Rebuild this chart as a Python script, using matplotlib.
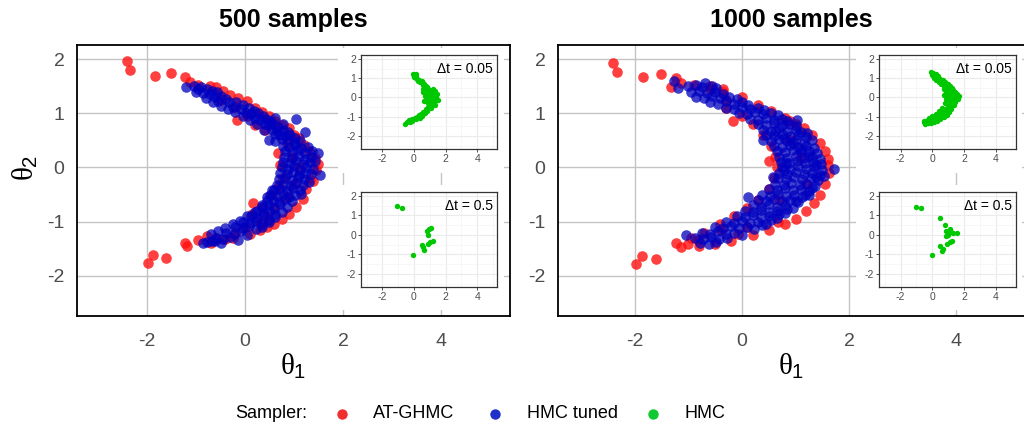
import numpy as np
import matplotlib
matplotlib.use('Agg')
import matplotlib.pyplot as plt
from matplotlib.lines import Line2D

plt.rcParams['font.family'] = ['Liberation Sans', 'DejaVu Sans']
plt.rcParams['axes.unicode_minus'] = False
plt.rcParams['mathtext.fontset'] = 'custom'
plt.rcParams['mathtext.rm'] = 'Liberation Sans'
plt.rcParams['mathtext.it'] = 'Liberation Serif'

W, H = 1024, 428

# ---- data: (theta1, theta2) ----
at_ghmc_500 = [
    (-2.41, 1.96), (-2.35, 1.79), (-1.84, 1.69), (-1.52, 1.74), (-1.22, 1.67), (-1.12, 1.57),
    (-0.71, 1.51), (-0.17, 0.88), (1.50, 0.06), (0.78, -0.19), (-1.99, -1.77), (-1.87, -1.62),
    (-1.61, -1.67), (-1.22, -1.40), (-1.18, -1.45), (-0.78, -1.26), (-0.24, -1.30), (0.10, -1.22),
    (0.16, -0.65), (-0.95, 1.52), (-0.6, 1.48), (-0.45, 1.42), (-0.3, 1.33), (-0.15, 1.28),
    (0.05, 1.22), (0.2, 1.1), (0.35, 1.02), (0.5, 0.95), (0.62, 0.85), (0.75, 0.78), (0.9, 0.72),
    (1.0, 0.6), (1.1, 0.55), (1.2, 0.42), (1.3, 0.3), (1.42, 0.18), (1.45, -0.05), (1.38, -0.25),
    (1.33, -0.22), (1.25, -0.4), (1.18, -0.59), (1.05, -0.72), (0.9, -0.85), (0.75, -0.95),
    (0.6, -1.05), (0.45, -1.1), (0.3, -1.15), (-0.4, -1.32), (-0.6, -1.3), (-0.95, -1.33),
    (-0.7, -1.4), (0.67, 0.27), (0.72, 0.05), (0.7, -0.35), (0.55, -0.5), (0.35, -0.72),
    (0.15, -0.85), (0.45, -0.9), (0.2, 0.78), (0.05, 0.95), (-0.2, 1.12), (-0.5, 1.25),
    (0.4, 0.7), (0.85, 0.45), (0.95, 0.2), (1.1, 0.0), (1.0, -0.3), (0.85, -0.55), (0.6, -0.75),
    (0.3, -1.0), (0.0, -1.1), (-0.2, -1.2),
]

hmc_tuned_500 = [
    (-1.05, 1.5), (-0.9, 1.48), (-0.95, 1.44), (-0.78, 1.45), (-0.68, 1.42), (-0.85, 1.38),
    (-0.72, 1.36), (-0.58, 1.4), (-0.62, 1.3), (-0.48, 1.32), (-0.38, 1.27), (-0.55, 1.22),
    (-0.32, 1.2), (-0.18, 1.2), (-0.05, 1.16), (-0.25, 1.12), (-0.08, 1.08), (0.08, 1.1),
    (0.18, 1.05), (0.02, 1.0), (0.12, 0.98), (0.26, 1.0), (0.36, 0.95), (0.2, 0.92),
    (0.3, 0.88), (0.42, 0.9), (0.52, 0.85), (0.62, 0.92), (0.4, 0.8), (0.5, 0.78), (0.58, 0.8),
    (0.68, 0.75), (0.78, 0.8), (0.55, 0.7), (0.66, 0.68), (0.78, 0.7), (0.88, 0.65), (0.62, 0.62),
    (0.72, 0.6), (0.82, 0.58), (0.92, 0.6), (1.02, 0.55), (0.5, 0.5), (0.62, 0.48), (0.75, 0.52),
    (0.88, 0.5), (1.0, 0.45), (1.12, 0.48), (0.78, 0.4), (0.9, 0.38), (1.02, 0.42), (1.15, 0.36),
    (1.28, 0.38), (0.82, 0.3), (0.95, 0.28), (1.08, 0.32), (1.22, 0.26), (1.36, 0.3), (0.8, 0.2),
    (0.95, 0.18), (1.1, 0.22), (1.22, 0.16), (1.35, 0.2), (0.78, 0.1), (0.92, 0.08), (1.05, 0.12),
    (1.18, 0.06), (1.32, 0.1), (1.42, 0.12), (0.75, 0.0), (0.88, -0.02), (1.0, 0.02), (1.12, -0.04),
    (1.25, 0.0), (1.38, -0.02), (0.72, -0.1), (0.85, -0.12), (0.98, -0.08), (1.1, -0.14),
    (1.22, -0.1), (1.35, -0.12), (0.7, -0.22), (0.82, -0.2), (0.95, -0.24), (1.08, -0.18),
    (1.2, -0.22), (1.3, -0.26), (0.65, -0.32), (0.78, -0.3), (0.92, -0.34), (1.05, -0.28),
    (1.18, -0.32), (0.6, -0.42), (0.72, -0.4), (0.85, -0.44), (0.98, -0.38), (1.12, -0.42),
    (0.52, -0.5), (0.65, -0.52), (0.78, -0.48), (0.9, -0.54), (1.02, -0.5), (1.15, -0.48),
    (0.45, -0.62), (0.58, -0.6), (0.7, -0.64), (0.82, -0.58), (0.95, -0.62), (0.35, -0.72),
    (0.48, -0.7), (0.6, -0.74), (0.72, -0.68), (0.85, -0.72), (0.25, -0.8), (0.38, -0.84),
    (0.5, -0.8), (0.62, -0.86), (0.75, -0.82), (0.12, -0.9), (0.25, -0.94), (0.38, -0.9),
    (0.5, -0.96), (0.62, -0.92), (-0.05, -1.0), (0.1, -1.02), (0.22, -0.98), (0.35, -1.04),
    (0.48, -1.0), (-0.2, -1.1), (-0.05, -1.12), (0.08, -1.08), (0.22, -1.14), (0.35, -1.1),
    (-0.38, -1.2), (-0.22, -1.22), (-0.08, -1.18), (0.05, -1.24), (-0.6, -1.3), (-0.45, -1.32),
    (-0.3, -1.28), (-0.15, -1.34), (-0.78, -1.38), (-0.62, -1.36), (-0.5, -1.4),
    (-0.8, 1.28), (-0.65, 1.2), (-0.5, 1.13), (-0.35, 1.08), (-0.2, 1.02), (-0.05, 0.95),
    (0.1, 0.88), (0.25, 0.8), (0.38, 0.7), (-0.7, -1.22), (-0.55, -1.18), (-0.4, -1.12),
    (-0.25, -1.05), (-0.1, -0.98), (0.05, -0.9), (0.2, -0.82), (0.35, -0.7), (0.45, -0.55),
    (0.55, -0.42),
    (-1.2, 1.49), (-1.0, 1.39), (1.04, 0.9), (1.22, 0.65), (1.54, -0.14), (1.5, 0.26),
    (-0.85, -1.4), (-0.68, -1.36),
]

at_ghmc_1000 = [
    (-2.41, 1.93), (-2.33, 1.77), (-1.84, 1.67), (-1.51, 1.72), (-1.23, 1.65), (-1.33, 1.49),
    (-1.13, 1.55), (-0.17, 0.86), (0.89, 0.85), (0.50, 0.12), (1.60, 0.04), (-1.97, -1.78),
    (-1.86, -1.63), (-1.60, -1.68), (-1.23, -1.40), (-1.13, -1.46), (-0.82, -1.34), (-0.39, -1.16),
    (-0.07, -1.22), (0.67, -1.0), (-0.9, 1.52), (-0.6, 1.5), (-0.35, 1.45), (0.0, 1.3),
    (0.3, 1.15), (0.55, 1.05), (0.8, 0.92), (1.0, 0.8), (1.15, 0.72), (1.3, 0.6), (1.45, 0.45),
    (1.55, 0.3), (1.6, 0.15), (1.62, -0.1), (1.55, -0.3), (1.45, -0.5), (1.35, -0.65),
    (1.2, -0.8), (1.0, -0.95), (0.8, -1.05), (0.5, -1.15), (0.2, -1.25), (-0.2, -1.35),
    (-0.5, -1.42), (-0.8, -1.45), (-1.0, -1.42), (-0.3, 1.1), (0.0, 0.95), (0.2, 0.8),
    (0.4, 0.6), (0.55, 0.4), (0.62, 0.2), (0.65, 0.0), (0.6, -0.2), (0.5, -0.4), (0.3, -0.6),
    (0.1, -0.75), (-0.15, -0.9), (-0.4, -1.05), (-0.7, -1.2), (-0.95, -1.3), (-0.6, 1.45),
    (-0.35, 1.4), (1.1, 0.2), (1.2, -0.3), (0.9, 0.5), (0.7, -0.6), (0.1, -1.1), (-0.3, 1.25),
]

hmc_tuned_1000 = [
    (-0.68, 1.55), (-0.85, 1.52), (-1.0, 1.5), (-0.75, 1.48), (-0.55, 1.5), (-0.48, 1.47),
    (-0.95, 1.4), (-0.8, 1.42), (-0.65, 1.38), (-0.5, 1.4), (-0.35, 1.36),
    (-0.85, 1.3), (-0.7, 1.28), (-0.55, 1.32), (-0.4, 1.28), (-0.25, 1.3), (-0.1, 1.26),
    (-0.6, 1.2), (-0.45, 1.18), (-0.3, 1.22), (-0.15, 1.18), (0.0, 1.2), (0.12, 1.16),
    (-0.3, 1.1), (-0.15, 1.08), (0.0, 1.12), (0.15, 1.08), (0.3, 1.1), (0.42, 1.06),
    (-0.05, 1.0), (0.1, 0.98), (0.25, 1.02), (0.4, 0.98), (0.55, 1.0), (0.68, 0.97),
    (0.15, 0.9), (0.3, 0.88), (0.45, 0.92), (0.6, 0.88), (0.75, 0.9), (0.85, 0.86),
    (0.3, 0.8), (0.45, 0.78), (0.6, 0.82), (0.75, 0.78), (0.88, 0.8), (1.0, 0.76),
    (0.4, 0.7), (0.55, 0.68), (0.7, 0.72), (0.85, 0.68), (1.0, 0.7), (1.1, 0.66),
    (0.45, 0.6), (0.6, 0.58), (0.75, 0.62), (0.9, 0.58), (1.05, 0.6), (1.2, 0.56),
    (0.4, 0.5), (0.55, 0.48), (0.7, 0.52), (0.85, 0.48), (1.0, 0.5), (1.15, 0.46), (1.3, 0.5),
    (0.6, 0.4), (0.75, 0.38), (0.9, 0.42), (1.05, 0.38), (1.2, 0.4), (1.35, 0.36),
    (0.65, 0.3), (0.8, 0.28), (0.95, 0.32), (1.1, 0.28), (1.25, 0.3), (1.4, 0.26),
    (0.7, 0.2), (0.85, 0.18), (1.0, 0.22), (1.15, 0.18), (1.3, 0.2), (1.45, 0.16),
    (0.72, 0.1), (0.88, 0.08), (1.02, 0.12), (1.18, 0.08), (1.32, 0.1), (1.48, 0.06),
    (0.75, 0.0), (0.9, -0.02), (1.05, 0.02), (1.2, -0.02), (1.35, 0.0), (1.5, -0.04),
    (0.7, -0.1), (0.85, -0.12), (1.0, -0.08), (1.15, -0.12), (1.3, -0.1), (1.45, -0.14),
    (0.68, -0.2), (0.82, -0.22), (0.98, -0.18), (1.12, -0.22), (1.28, -0.2), (1.42, -0.24),
    (0.62, -0.3), (0.78, -0.32), (0.92, -0.28), (1.08, -0.32), (1.22, -0.3), (1.36, -0.34),
    (0.5, -0.4), (0.65, -0.42), (0.8, -0.38), (0.95, -0.42), (1.1, -0.4), (1.25, -0.44),
    (0.38, -0.5), (0.52, -0.52), (0.68, -0.48), (0.82, -0.52), (0.98, -0.5), (1.12, -0.54),
    (1.25, -0.5), (0.3, -0.6), (0.45, -0.62), (0.6, -0.58), (0.75, -0.62), (0.9, -0.6),
    (1.05, -0.64), (0.2, -0.7), (0.35, -0.72), (0.5, -0.68), (0.65, -0.72), (0.8, -0.7),
    (0.95, -0.74), (0.05, -0.8), (0.2, -0.82), (0.35, -0.78), (0.5, -0.82), (0.65, -0.8),
    (0.8, -0.84), (-0.1, -0.9), (0.05, -0.92), (0.2, -0.88), (0.35, -0.92), (0.5, -0.9),
    (0.65, -0.94), (-0.3, -1.0), (-0.15, -1.02), (0.0, -0.98), (0.15, -1.02), (0.3, -1.0),
    (0.45, -1.04), (-0.5, -1.1), (-0.35, -1.12), (-0.2, -1.08), (-0.05, -1.12), (0.1, -1.1),
    (0.22, -1.14), (-0.75, -1.2), (-0.6, -1.22), (-0.45, -1.18), (-0.3, -1.22), (-0.15, -1.2),
    (0.0, -1.24), (-0.88, -1.3), (-0.72, -1.32), (-0.58, -1.28), (-0.42, -1.32), (-0.28, -1.3),
    (-0.78, -1.4), (-0.62, -1.42), (-0.48, -1.38),
    (0.62, 0.68), (0.78, 0.55), (0.95, 0.45), (1.1, 0.35), (1.25, 0.22), (1.38, 0.05),
    (1.38, -0.18), (1.3, -0.38), (1.18, -0.5), (1.0, -0.62), (0.85, -0.76), (0.7, -0.86),
    (0.55, -0.97), (0.38, -1.06), (0.82, 0.08), (0.78, -0.05),
    (-1.26, 1.6), (-1.19, 1.47), (1.03, 0.88), (1.22, 0.63), (1.71, -0.02), (1.54, -0.16),
    (-1.04, -1.24), (0.11, -0.54), (0.58, -0.18),
]

hmc_500_dt005 = [
    (-0.05, 1.2), (0.05, 1.18), (0.1, 1.12), (-0.02, 1.05), (0.12, 1.02), (0.2, 0.95),
    (0.3, 0.9), (0.25, 0.85), (0.4, 0.82), (0.5, 0.85), (0.55, 0.75), (0.65, 0.7), (0.6, 0.62),
    (0.75, 0.6), (0.85, 0.55), (0.7, 0.5), (0.9, 0.45), (1.0, 0.4), (0.8, 0.35), (1.1, 0.3),
    (1.2, 0.25), (0.95, 0.2), (1.3, 0.12), (1.15, 0.05), (1.4, 0.0), (1.5, -0.12), (1.25, -0.1),
    (1.35, -0.2), (1.1, -0.25), (1.2, -0.35), (1.0, -0.4), (0.9, -0.5), (1.05, -0.55),
    (0.75, -0.6), (0.85, -0.68), (0.6, -0.75), (0.7, -0.82), (0.45, -0.85), (0.5, -0.95),
    (0.3, -0.92), (0.2, -1.0), (0.35, -1.05), (0.05, -1.05), (0.1, -1.12), (-0.1, -1.1),
    (-0.15, -1.2), (-0.3, -1.18), (-0.25, -1.28), (-0.45, -1.25), (-0.55, -1.35),
    (0.6, 0.3), (0.7, 0.1), (0.85, 0.0), (0.95, -0.15), (0.8, 0.15), (1.2, 0.45), (1.3, 0.35),
    (1.45, 0.2), (0.65, -0.2), (1.3, -0.4), (0.55, 0.45), (0.15, 1.2), (0.0, 1.1), (1.05, 0.1),
    (0.9, -0.3),
]

hmc_500_dt05 = [
    (-1.06, 1.47), (-0.74, 1.36), (0.80, 0.22), (0.97, 0.31), (1.06, 0.34), (0.91, 0.02),
    (0.49, -0.51), (0.59, -0.64), (0.65, -0.77), (0.91, -0.46), (1.01, -0.38), (1.18, -0.33),
    (-0.08, -1.01),
]

hmc_1000_dt005 = [
    (-0.1, 1.3), (0.05, 1.25), (-0.05, 1.15), (0.15, 1.1), (0.1, 1.0), (0.3, 1.02), (0.25, 0.9),
    (0.45, 0.92), (0.4, 0.8), (0.6, 0.82), (0.55, 0.7), (0.75, 0.72), (0.7, 0.6), (0.9, 0.62),
    (0.85, 0.5), (1.05, 0.5), (0.95, 0.38), (1.15, 0.4), (1.0, 0.25), (1.25, 0.28), (1.1, 0.12),
    (1.35, 0.15), (1.2, 0.0), (1.5, 0.02), (1.6, -0.1), (1.3, -0.15), (1.45, -0.25), (1.1, -0.2),
    (1.25, -0.35), (1.0, -0.4), (1.15, -0.5), (0.9, -0.55), (1.0, -0.65), (0.75, -0.68),
    (0.85, -0.78), (0.55, -0.8), (0.65, -0.9), (0.35, -0.9), (0.45, -1.0), (0.15, -1.0),
    (0.25, -1.1), (-0.05, -1.1), (0.05, -1.18), (-0.25, -1.15), (-0.15, -1.25), (-0.4, -1.2),
    (-0.5, -1.28), (-0.3, -1.3), (0.95, 0.05), (0.8, -0.3), (1.3, 0.4), (0.6, -0.55),
    (0.2, 1.2), (0.35, 1.1), (0.5, 0.95), (0.65, 0.9), (0.8, 0.8), (0.95, 0.7), (1.1, 0.6),
    (1.25, 0.5), (1.4, 0.3), (1.55, 0.2), (1.65, 0.05), (1.4, -0.05), (0.85, 0.3), (0.75, 0.45),
    (0.7, 0.15), (0.85, -0.1), (1.05, -0.05), (1.35, -0.4), (1.2, -0.6), (1.05, -0.75),
    (0.9, -0.9), (0.7, -1.0), (0.5, -1.1), (0.3, -1.2), (0.1, -1.25), (-0.1, -1.32),
    (-0.45, -1.35), (-0.55, -1.2), (0.4, -0.7), (0.2, -0.85), (0.0, -0.95), (-0.2, -1.05),
]

hmc_1000_dt05 = [
    (-1.05, 1.45), (-0.73, 1.37), (0.45, 0.85), (0.77, 0.51), (0.88, 0.22), (1.08, 0.31),
    (1.14, 0.13), (0.99, 0.02), (1.29, 0.08), (1.57, 0.08), (0.88, -0.04), (1.21, -0.29),
    (1.10, -0.38), (0.93, -0.46), (0.50, -0.55), (0.65, -0.72), (0.61, -0.80), (-0.04, -1.01),
]

titles = ['500 samples', '1000 samples']
sampler_labels = ['AT-GHMC', 'HMC tuned', 'HMC']
dt_labels = ['\u0394t = 0.05', '\u0394t = 0.5']

RED = '#FF1010'
BLUE = '#0000C0'
GREEN = '#00C800'


def box(x0, y0, x1, y1):
    # pixel box (top-left origin) -> figure fraction rect
    return [x0 / W, 1 - y1 / H, (x1 - x0) / W, (y1 - y0) / H]


fig = plt.figure(figsize=(W / 100, H / 100), dpi=100)

panels = [
    dict(main=(77, 45, 510, 316), bg=(338, 504), inset_x=(361, 497),
         red=at_ghmc_500, blue=hmc_tuned_500, green=[hmc_500_dt005, hmc_500_dt05]),
    dict(main=(558, 45, 1032, 316), bg=(856, 1022), inset_x=(879, 1016),
         red=at_ghmc_1000, blue=hmc_tuned_1000, green=[hmc_1000_dt005, hmc_1000_dt05]),
]

for i, p in enumerate(panels):
    ax = fig.add_axes(box(*p['main']))
    r = np.array(p['red'])
    b = np.array(p['blue'])
    ax.scatter(r[:, 0], r[:, 1], s=58, color=RED, alpha=0.8, linewidths=0, zorder=2)
    ax.scatter(b[:, 0], b[:, 1], s=58, color=BLUE, alpha=0.75, linewidths=0, zorder=3)
    ax.set_xlim(-3.43, 5.41)
    ax.set_ylim(-2.74, 2.26)
    ax.set_xticks([-2, 0, 2, 4])
    ax.set_yticks([-2, -1, 0, 1, 2])
    ax.grid(True, color='#C4C4C4', lw=1.0, zorder=0)
    ax.set_axisbelow(True)
    ax.tick_params(length=0, labelsize=14, labelcolor='#4D4D4D', pad=9)
    ax.tick_params(axis='x', pad=12)
    for s in ax.spines.values():
        s.set_color('black')
        s.set_linewidth(1.3)

    x0, y0, x1, y1 = p['main']
    cx = (x0 + min(x1, W)) / 2
    fig.text(cx / W, 1 - 20 / H, titles[i], ha='center', va='center',
             fontsize=18, fontweight='bold')
    fig.text(cx / W, 1 - 366 / H, r'$\theta_1$', ha='center', va='center', fontsize=21)

    # inset backgrounds and insets
    for j, (ty, by, fy0, fy1) in enumerate([(48, 173, 55, 149), (185, 310, 192, 287)]):
        bg = fig.add_axes(box(p['bg'][0], ty, p['bg'][1], by))
        bg.set_axis_off()
        bg.add_patch(plt.Rectangle((0, 0), 1, 1, color='white', transform=bg.transAxes))

        ia = fig.add_axes(box(p['inset_x'][0], fy0, p['inset_x'][1], fy1))
        g = np.array(p['green'][j])
        ia.scatter(g[:, 0], g[:, 1], s=15, color=GREEN, linewidths=0, zorder=3)
        ia.set_xlim(-3.35, 5.25)
        ia.set_ylim(-2.67, 2.2)
        ia.set_xticks([-2, 0, 2, 4])
        ia.set_yticks([-2, -1, 0, 1, 2])
        ia.set_xticks([-3, -1, 1, 3, 5], minor=True)
        ia.set_yticks([-2.5, -1.5, -0.5, 0.5, 1.5], minor=True)
        ia.grid(True, which='major', color='#EBEBEB', lw=0.8)
        ia.grid(True, which='minor', color='#F4F4F4', lw=0.5)
        ia.set_axisbelow(True)
        ia.tick_params(which='major', length=2, width=0.6, color='#333333',
                       labelsize=7.5, labelcolor='#4D4D4D', pad=1.5)
        ia.tick_params(which='minor', length=0)
        for s in ia.spines.values():
            s.set_color('#333333')
            s.set_linewidth(0.9)
        ia.text(0.97, 0.85, dt_labels[j], transform=ia.transAxes, ha='right',
                va='center', fontsize=10)

fig.text(25 / W, 1 - 168 / H, r'$\theta_2$', ha='center', va='center',
         fontsize=21, rotation=90)

# legend
ly = 1 - 414 / H
fig.text(235 / W, ly, 'Sampler:', ha='left', va='center', fontsize=13)
for lab, col, dx, tx in zip(sampler_labels, ['#F03030', '#2030C8', '#10C830'],
                            [342, 495, 653], [373, 527, 685]):
    fig.add_artist(Line2D([dx / W], [ly], marker='o', markersize=7.5, color=col,
                          markeredgewidth=0, transform=fig.transFigure))
    fig.text(tx / W, ly, lab, ha='left', va='center', fontsize=13)

fig.savefig('out.png', dpi=100)
